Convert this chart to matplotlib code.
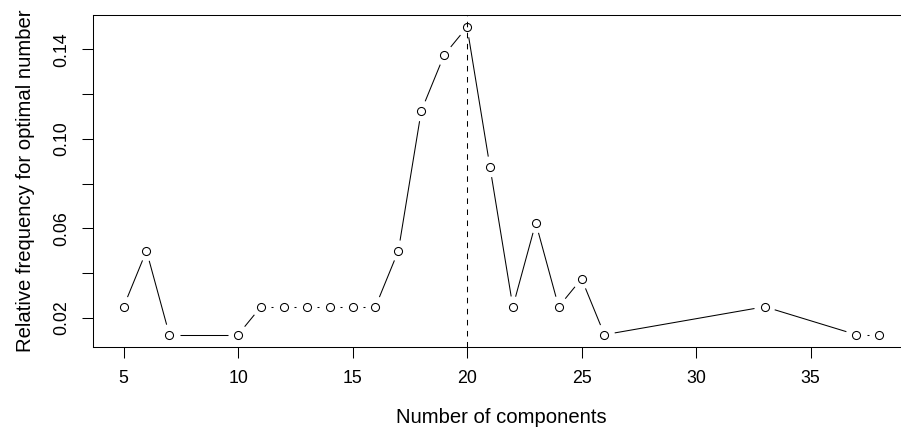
import numpy as np
import matplotlib
matplotlib.use("Agg")
import matplotlib.pyplot as plt

# datos
n_comp = [5, 6, 7, 10, 11, 12, 13, 14, 15, 16, 17, 18, 19, 20, 21, 22, 23, 24, 25, 26, 33, 37, 38]
rel_freq = [0.025, 0.05, 0.0125, 0.0125, 0.025, 0.025, 0.025, 0.025, 0.025, 0.025, 0.05,
            0.1125, 0.1375, 0.15, 0.0875, 0.025, 0.0625, 0.025, 0.0375, 0.0125, 0.025,
            0.0125, 0.0125]
x_ticks = [5, 10, 15, 20, 25, 30, 35]
y_ticks = [0.02, 0.04, 0.06, 0.08, 0.10, 0.12, 0.14]
y_labels = ["0.02", "", "0.06", "", "0.10", "", "0.14"]
best_n = 20

plt.rcParams['font.family'] = ['Liberation Sans', 'DejaVu Sans']
fs_tick = 12.8
fs_lab = 14.6

fig = plt.figure(figsize=(9.01, 4.30), dpi=100)
ax = fig.add_axes([0.1036, 0.193, 0.9058, 0.7728])

# rango estilo R (4% extra)
x = np.array(n_comp, dtype=float)
y = np.array(rel_freq, dtype=float)
dx = (x.max() - x.min()) * 0.04
dy = (y.max() - y.min()) * 0.04
ax.set_xlim(x.min() - dx, x.max() + dx)
ax.set_ylim(y.min() - dy, y.max() + dy)

# lineas tipo "b": segmentos cortados alrededor de los puntos
gap = 10.4
pts = ax.transData.transform(np.column_stack([x, y]))
inv = ax.transData.inverted()
for i in range(len(pts) - 1):
    p0, p1 = pts[i], pts[i + 1]
    d = p1 - p0
    L = np.hypot(d[0], d[1])
    if L <= 2 * gap:
        continue
    u = d / L
    a = inv.transform(p0 + u * gap)
    b = inv.transform(p1 - u * gap)
    ax.plot([a[0], b[0]], [a[1], b[1]], color='black', lw=0.75, solid_capstyle='butt')

ax.plot(x, y, linestyle='none', marker='o', markersize=5.8, markerfacecolor='none',
        markeredgecolor='black', markeredgewidth=0.75)

ax.axvline(best_n, color='black', lw=0.75, linestyle=(0, (5.3, 5.3)))

ax.set_xticks(x_ticks)
ax.set_yticks(y_ticks)
ax.set_yticklabels(y_labels)
for lab in ax.get_yticklabels():
    lab.set_rotation(90)
    lab.set_verticalalignment('center')
ax.tick_params(axis='both', length=7.8, width=0.75, labelsize=fs_tick, pad=9)
for s in ax.spines.values():
    s.set_linewidth(0.75)

ax.set_xlabel("Number of components", fontsize=fs_lab, labelpad=15)
ax.set_ylabel("Relative frequency for optimal number", fontsize=fs_lab, labelpad=13)

fig.savefig("out.png", dpi=100)
